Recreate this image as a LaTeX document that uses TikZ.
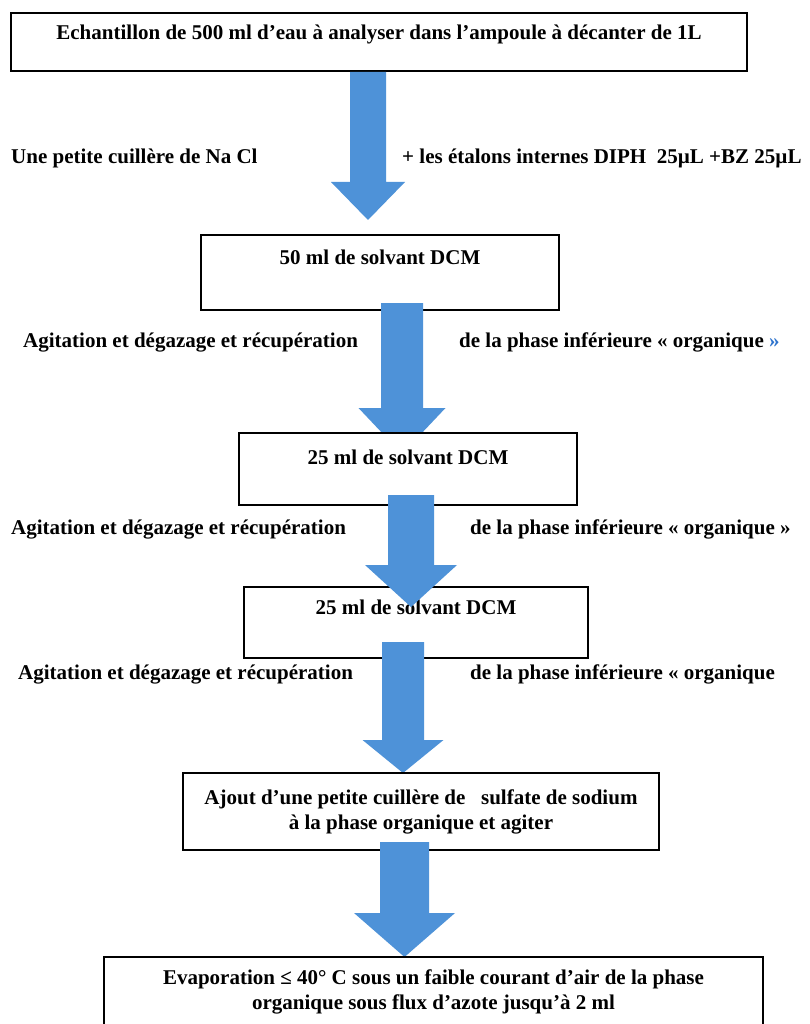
\documentclass[tikz,border=0pt]{standalone}
\usepackage{fontspec}
\setmainfont{Liberation Serif}
\usetikzlibrary{calc}
\definecolor{flowBlue}{RGB}{78,146,216}
\definecolor{quoteBlue}{RGB}{45,115,205}
\newcommand{\flowFont}{\fontsize{21}{25}\selectfont\bfseries}
\newcommand{\flowArrow}[5]{\fill[flowBlue] ($(#1)+(-#3,0)$) -- ($(#1)+(#3,0)$) -- ($(#2)+(#3,-#5)$) -- ($(#2)+(#4,-#5)$) -- (#2) -- ($(#2)+(-#4,-#5)$) -- ($(#2)+(-#3,-#5)$) -- cycle;}
\begin{document}
\begin{tikzpicture}[x=1pt,y=-1pt,
  stepbox/.style={draw=black, line width=1.2pt, fill=white, inner xsep=0pt, inner ysep=0pt, font=\flowFont},
  rowtext/.style={anchor=base west, inner sep=0pt, font=\flowFont}]
\fill[white] (0,0) rectangle (810,1024);
\useasboundingbox (0,0) rectangle (810,1024);
\node[stepbox, anchor=base, minimum width=736pt, text height=27pt, text depth=31pt] (n500ml) at (379,40) {Echantillon de 500 ml d’eau à analyser dans l’ampoule à décanter de 1L};
\node[stepbox, anchor=base, minimum width=358pt, text height=29pt, text depth=46pt] (nDCMa) at (380,264) {50 ml de solvant DCM};
\coordinate (a1top) at (368,72);
\coordinate (a1tip) at (368,220);
\flowArrow{a1top}{a1tip}{18}{37}{38}
\coordinate (a2top) at (402,303);
\coordinate (a2tip) at (402,454);
\flowArrow{a2top}{a2tip}{21}{43.5}{46}
\node[stepbox, anchor=base, minimum width=338pt, text height=31pt, text depth=41pt] (nDCMb) at (408,464) {25 ml de solvant DCM};
\node[stepbox, anchor=base, minimum width=344pt, text height=27pt, text depth=44pt] (nDCMc) at (416,614) {25 ml de solvant DCM};
\coordinate (a3top) at (411,495);
\coordinate (a3tip) at (411,607);
\flowArrow{a3top}{a3tip}{23}{46}{42}
\coordinate (a4top) at (403,642);
\coordinate (a4tip) at (403,773);
\flowArrow{a4top}{a4tip}{21}{40.5}{33}
\node[stepbox, align=center, minimum width=476pt, minimum height=77pt] (nSulfate) at (421,811.5) {Ajout d’une petite cuillère de\ \ \ sulfate de sodium\\à la phase organique et agiter};
\coordinate (a5top) at (404.5,842);
\coordinate (a5tip) at (404.5,957);
\flowArrow{a5top}{a5tip}{24.5}{50.5}{44}
\node[stepbox, align=center, minimum width=659pt, minimum height=70pt] (nEvaporation) at (433.5,992) {Evaporation ≤ 40° C sous un faible courant d’air de la phase\\organique sous flux d’azote jusqu’à 2 ml};
\node[rowtext] (tNaCl) at (11,164) {Une petite cuillère de Na Cl};
\node[rowtext] (tEtalons) at (402,164) {+ les étalons internes DIPH\ \ 25µL +BZ 25µL};
\node[rowtext] (tAgitA) at (23,347) {Agitation et dégazage et récupération};
\node[rowtext] (tPhaseA) at (459,347) {de la phase inférieure « organique {\color{quoteBlue}»}};
\node[rowtext] (tAgitB) at (11,534) {Agitation et dégazage et récupération};
\node[rowtext] (tPhaseB) at (470,534) {de la phase inférieure « organique »};
\node[rowtext] (tAgitC) at (18,679) {Agitation et dégazage et récupération};
\node[rowtext] (tPhaseC) at (470,679) {de la phase inférieure « organique};
\end{tikzpicture}
\end{document}
